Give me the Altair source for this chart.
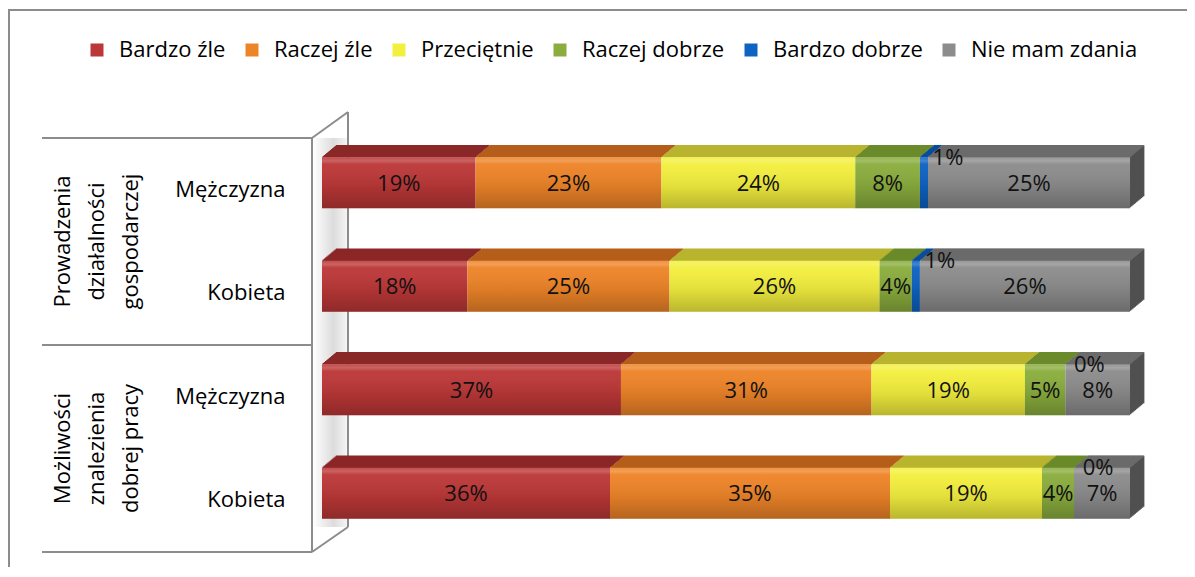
import altair as alt
import pandas as pd

# ---------------- data ----------------
categories = ["Bardzo źle", "Raczej źle", "Przeciętnie", "Raczej dobrze", "Bardzo dobrze", "Nie mam zdania"]
front_colors = ["#BC3737", "#EE8428", "#F3EF3E", "#8AAD3D", "#0D62C2", "#8C8C8C"]
top_colors = ["#8A2727", "#B55E1B", "#B9B42F", "#6A8A2B", "#0A4D9E", "#6B6B6B"]

row_keys = ["P-M", "P-K", "Z-M", "Z-K"]
row_names = ["Mężczyzna", "Kobieta", "Mężczyzna", "Kobieta"]
group_first_rows = ["P-M", "Z-M"]
group_names = ["Prowadzenia\ndziałalności\ngospodarczej", "Możliwości\nznalezienia\ndobrej pracy"]

values_pm = [19, 23, 24, 8, 1, 25]
values_pk = [18, 25, 26, 4, 1, 26]
values_zm = [37, 31, 19, 5, 0, 8]
values_zk = [36, 35, 19, 4, 0, 7]

series = [values_pm, values_pk, values_zm, values_zk]
records = []
for key, vals in zip(row_keys, series):
    for i, (c, v) in enumerate(zip(categories, vals)):
        records.append({"row": key, "cat": c, "order": i, "value": v})
df = pd.DataFrame(records)
groups_df = pd.DataFrame({"row": group_first_rows, "label": group_names})

FONT = "Open Sans"
FY = -7          # front face offset inside band
N = 12           # strips for 3D faces
DX = 1.2

label_expr = " : ".join(
    f"datum.value == '{k}' ? '{n}'" for k, n in zip(row_keys, row_names)
) + " : ''"

xscale = alt.Scale(domain=[0, 1], nice=False, zero=True)
yscale = alt.Scale(domain=row_keys, paddingInner=0.507, paddingOuter=0.2535)
y_enc = alt.Y("row:N", scale=yscale, sort=row_keys, title=None,
              axis=alt.Axis(labelExpr=label_expr, domain=False, ticks=False, grid=False,
                            labelPadding=37, labelFont=FONT, labelFontSize=22,
                            labelColor="#000000", labelAlign="right", labelBaseline="middle"))
x_enc = alt.X("x0:Q", scale=xscale, axis=None)
x2_enc = alt.X2("x1:Q")

base = alt.Chart(df).transform_stack(
    stack="value", groupby=["row"], as_=["x0", "x1"], offset="normalize",
    sort=[alt.SortField("order", order="ascending")]
)

one = alt.Data(values=[{"a": 1}])
LINE = "#8C8C8C"

def rule(x1, y1, x2, y2, w=2):
    return alt.Chart(one).mark_rule(color=LINE, strokeWidth=w).encode(
        x=alt.value(x1), y=alt.value(y1), x2=alt.value(x2), y2=alt.value(y2))

frame = alt.Chart(one).mark_rect(filled=False, stroke=LINE, strokeWidth=2).encode(
    x=alt.value(-313), x2=alt.value(2000), y=alt.value(-128), y2=alt.value(1000))

wall_fill = alt.Chart(one).mark_rect(
    fill=alt.Gradient(gradient="linear", x1=0, x2=1, y1=0, y2=0,
                      stops=[alt.GradientStop(color="#ffffff", offset=0),
                             alt.GradientStop(color="#dcdcdc", offset=0.6),
                             alt.GradientStop(color="#f4f4f4", offset=1)])
).encode(x=alt.value(-9), x2=alt.value(25), y=alt.value(0), y2=alt.value(389))

decor = [frame, wall_fill,
         rule(-10, 0, -10, 414), rule(26, -26, 26, 389),
         rule(-10, 0, 26, -26), rule(-10, 414, 26, 389),
         rule(-280, 0, -10, 0), rule(-280, 207, -10, 207), rule(-280, 414, -10, 414)]

group_text = alt.Chart(groups_df).mark_text(
    angle=270, align="center", baseline="middle", lineBreak="\n", lineHeight=34,
    font=FONT, fontSize=22, color="#000000", yOffset=51.75
).encode(x=alt.value(-259), y=y_enc, text="label:N")

side_layers = []
for k in range(N, 0, -1):
    side_layers.append(
        base.transform_filter(alt.datum.cat == "Nie mam zdania").mark_bar(
            color="#505050", xOffset=DX * k, x2Offset=DX * k, yOffset=FY - k
        ).encode(x=x_enc, x2=x2_enc, y=y_enc)
    )

# top faces keyed by series index so their (legend-less) scale stays separate
top_scale = alt.Scale(domain=list(range(len(categories))), range=top_colors)
top_layers = []
for k in range(N - 1, -1, -1):
    off = DX * (k + 0.5)
    top_layers.append(
        base.mark_bar(size=1.6, xOffset=off, x2Offset=off, yOffset=FY - 25.5 - k - 0.5).encode(
            x=x_enc, x2=x2_enc, y=y_enc,
            fill=alt.Fill("order:O", scale=top_scale, legend=None)
        )
    )

front = base.mark_bar(yOffset=FY).encode(
    x=x_enc, x2=x2_enc, y=y_enc,
    color=alt.Color("cat:N", scale=alt.Scale(domain=categories, range=front_colors),
                    legend=alt.Legend(title=None, orient="none", legendX=-236, legendY=-99,
                                      direction="horizontal", gridAlign="none", labelLimit=400,
                                      labelFont=FONT, labelFontSize=22,
                                      labelColor="#000000", symbolType="square", symbolSize=169,
                                      symbolStrokeWidth=0, labelOffset=11, columnPadding=15))
)

gloss = base.mark_bar(
    yOffset=FY,
    fill=alt.Gradient(gradient="linear", x1=0, x2=0, y1=0, y2=1,
                      stops=[alt.GradientStop(color="rgba(255,255,255,0.10)", offset=0),
                             alt.GradientStop(color="rgba(255,255,255,0.22)", offset=0.07),
                             alt.GradientStop(color="rgba(255,255,255,0.04)", offset=0.14),
                             alt.GradientStop(color="rgba(0,0,0,0.08)", offset=0.6),
                             alt.GradientStop(color="rgba(0,0,0,0.24)", offset=1)])
).encode(x=x_enc, x2=x2_enc, y=y_enc)

lab = base.transform_calculate(mid="(datum.x0 + datum.x1) / 2", lbl="datum.value + '%'")
labels_big = lab.transform_filter(alt.datum.value > 1).mark_text(
    font=FONT, fontSize=22, color="#111111", align="center", baseline="middle", dy=FY + 1
).encode(x=alt.X("mid:Q", scale=xscale, axis=None), y=y_enc, text="lbl:N")
labels_small = lab.transform_filter(alt.datum.value <= 1).mark_text(
    font=FONT, fontSize=22, color="#111111", align="center", baseline="middle", dx=24, dy=FY - 25
).encode(x=alt.X("mid:Q", scale=xscale, axis=None), y=y_enc, text="lbl:N")

chart = alt.layer(
    *decor, group_text, *side_layers, *top_layers, front, gloss, labels_big, labels_small
).properties(
    width=808, height=414,
    padding={"left": 314, "top": 130, "right": 57, "bottom": 15},
    autosize=alt.AutoSizeParams(type="none"),
    background="#ffffff"
).configure_view(stroke=None)

chart.save("out.html", embed_options={"renderer": "svg", "actions": False})
